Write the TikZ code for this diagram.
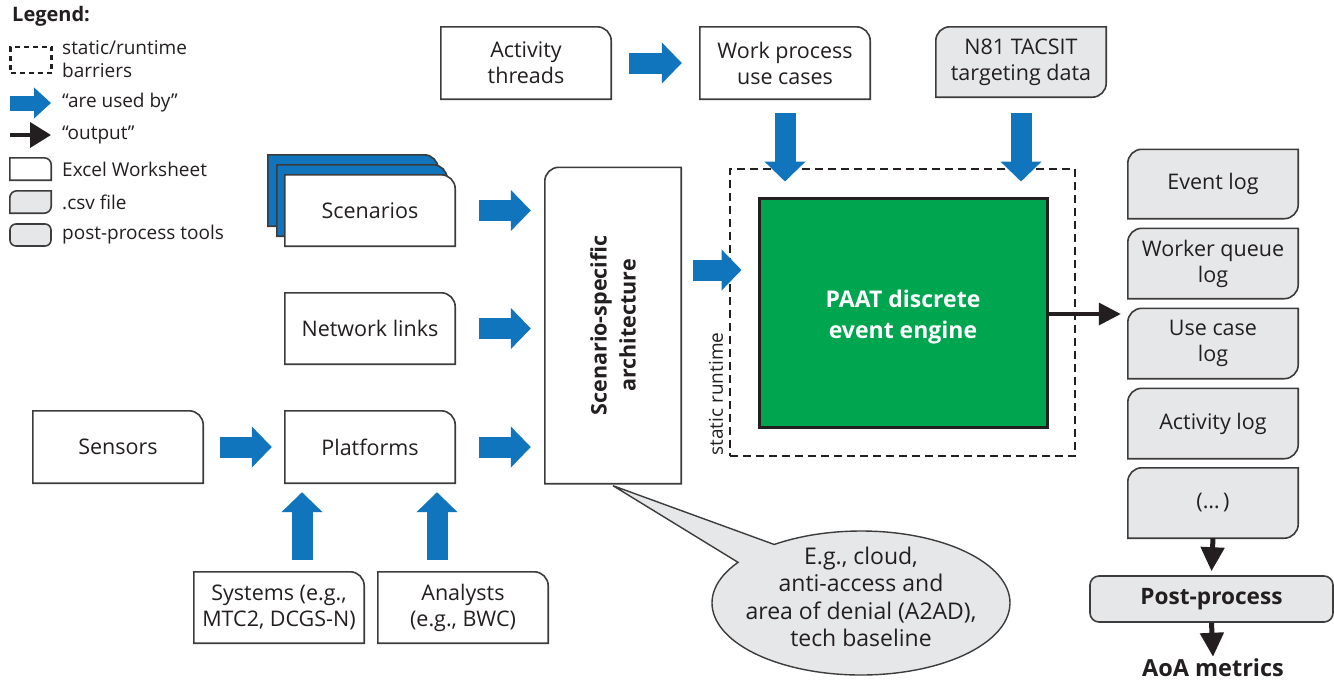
\documentclass[tikz,border=0pt]{standalone}
\usepackage{fontspec}
\setmainfont{Open Sans}
\usetikzlibrary{arrows.meta,shapes.callouts,calc}
\definecolor{ablue}{RGB}{16,117,188}
\definecolor{agreen}{RGB}{0,165,79}
\definecolor{agray}{RGB}{230,231,232}
\definecolor{aline}{RGB}{60,60,60}
\definecolor{atext}{RGB}{35,31,32}
\pgfdeclarelayer{bg}\pgfsetlayers{bg,main}
\newcommand\mainsz{\fontsize{21.5}{26}\selectfont}
\newcommand\legsz{\fontsize{19}{23}\selectfont}
% sheet: rounded top-right corner
\newcommand\drawsheet[3][]{\draw[shapeline,fill=white,#1] (#2.south west) -- (#2.north west) -- ([xshift=-#3]#2.north east) arc[start angle=90,end angle=0,radius=#3] -- (#2.south east) -- cycle;}
% csv: rounded top-left and bottom-right
\newcommand\drawcsv[3][]{\draw[shapeline,fill=agray,#1] ([yshift=-#3]#2.north west) arc[start angle=180,end angle=90,radius=#3] -- (#2.north east) -- ([yshift=#3]#2.south east) arc[start angle=0,end angle=-90,radius=#3] -- (#2.south west) -- cycle;}
% architecture: rounded top-left
\newcommand\drawarch[3][]{\draw[shapeline,fill=white,#1] (#2.south west) -- ([yshift=-#3]#2.north west) arc[start angle=180,end angle=90,radius=#3] -- (#2.north east) -- (#2.south east) -- cycle;}
\tikzset{
  x=1pt,y=1pt,
  box/.style={minimum width=170pt, minimum height=72pt, inner sep=0pt, align=center, font=\mainsz, text=atext},
  csvbox/.style={box, minimum height=70pt},
  shapeline/.style={draw=aline, line width=1.6pt},
  bluearrow/.style={draw=ablue, line width=21pt, -{Triangle[width=40pt,length=20pt]}},
  blackarrow/.style={draw=atext, line width=5pt, -{Triangle[width=23pt,length=24pt]}},
  legtext/.style={anchor=west, inner sep=0pt, align=left, font=\legsz, text=atext},
  legshape/.style={minimum width=41pt, minimum height=22pt, inner sep=0pt},
  barrier/.style={draw=atext, line width=2.8pt, dash pattern=on 8pt off 5pt},
}
\begin{document}
\begin{tikzpicture}
\useasboundingbox (0,0) rectangle (1334,-681);
\begin{pgfonlayer}{bg}
\fill[white] (0,0) rectangle (1334,-681);
\end{pgfonlayer}

% ---------------- Legend ----------------
\node[anchor=west, inner sep=0pt, font=\bfseries\fontsize{20}{23}\selectfont, text=atext] (legtitle) at (12,-16) {Legend:};
\node[legshape, minimum height=26pt, barrier, line width=2.4pt, dash pattern=on 5pt off 4pt] (legdash) at (31,-60) {};
\node[legtext] (legdasht) at (62,-59) {static/runtime\\barriers};
\coordinate (lb1) at (10,-103);
\coordinate (lb2) at (51,-103);
\draw[draw=ablue, line width=15pt, -{Triangle[width=30pt,length=17pt]}] (lb1) -- (lb2);
\node[legtext] (legbluet) at (62,-103) {“are used by”};
\coordinate (lk1) at (10,-135);
\coordinate (lk2) at (51,-135);
\draw[draw=atext, line width=4pt, -{Triangle[width=25pt,length=21pt]}] (lk1) -- (lk2);
\node[legtext] (legblackt) at (62,-135) {“output”};
\node[legshape] (legsheet) at (30.5,-169) {};
\node[legtext] (legsheett) at (62,-169) {Excel Worksheet};
\node[legshape] (legcsv) at (30.5,-202) {};
\node[legtext] (legcsvt) at (62,-202) {.csv file};
\node[legshape, draw=aline, line width=1.6pt, fill=agray, rounded corners=6pt] (legpost) at (30.5,-235) {};
\node[legtext] (legpostt) at (62,-235) {post-process tools};

% ---------------- Boxes ----------------
\node[box] (act) at (526,-63) {Activity\\threads};
\node[box] (work) at (785,-63) {Work process\\use cases};
\node[csvbox] (n81) at (1021,-62) {N81 TACSIT\\targeting data};

\node[box, minimum height=71pt] (scen) at (370,-210.5) {Scenarios};
\node[box, minimum height=71pt] (scenB) at ([shift={(-8,10)}]scen.center) {};
\node[box, minimum height=71pt] (scenC) at ([shift={(-17,20)}]scen.center) {};
\node[box, minimum height=71pt] (net) at (370,-328.5) {Network links};
\node[box] (sens) at (118,-447) {Sensors};
\node[box] (plat) at (370,-447) {Platforms};
\node[box, minimum height=71pt] (sys) at (279,-607.5) {Systems (e.g.,\\MTC2, DCGS-N)};
\node[box, minimum height=71pt] (ana) at (463,-607.5) {Analysts\\(e.g., BWC)};

\node[minimum width=136pt, minimum height=316pt, inner sep=0pt] (arch) at (613,-325.5) {};
\node[rotate=90, align=center, inner sep=0pt, font=\bfseries\fontsize{21.5}{29}\selectfont, text=atext] (archt) at (arch.center) {Scenario-specific\\architecture};

\node[minimum width=345pt, minimum height=287pt, inner sep=0pt, barrier] (dash) at (902.5,-312.5) {};
\node[minimum width=288pt, minimum height=229pt, inner sep=0pt, fill=agreen, draw=atext, line width=3pt] (green) at (903,-312.5) {};
\node[align=center, inner sep=0pt, text=white, font=\bfseries\fontsize{23}{31}\selectfont] (greent) at ([yshift=-5pt]green.center) {PAAT discrete\\event engine};
\node[rotate=90, inner sep=0pt, font=\fontsize{19}{20}\selectfont, text=atext] (statrt) at (716,-394) {static runtime};

\node[csvbox, minimum height=69pt] (ev) at (1213,-184) {Event log};
\node[csvbox] (wq) at (1213,-263.5) {Worker queue\\log};
\node[csvbox] (uc) at (1213,-343.5) {Use case\\log};
\node[csvbox] (al) at (1213,-423.5) {Activity log};
\node[csvbox] (dots) at (1213,-503) {(…\,)};
\node[minimum width=243pt, minimum height=46pt, inner sep=0pt, draw=aline, line width=1.6pt, fill=agray, rounded corners=9pt, font=\bfseries\fontsize{22.6}{26}\selectfont, text=atext] (post) at (1211.5,-599) {Post-process};
\node[inner sep=0pt, font=\bfseries\fontsize{23.5}{26}\selectfont, text=atext] (aoa) at (1213,-668) {AoA metrics};

% callout
\node[ellipse callout, minimum width=298pt, minimum height=144pt, inner sep=0pt, fill=agray, draw=aline, line width=1.4pt, callout absolute pointer={([yshift=-2pt]arch.south)}, callout pointer arc=20] (note) at (861,-603) {};
\node[align=center, inner sep=0pt, font=\fontsize{23}{27.5}\selectfont, text=atext] (notet) at (861,-597) {E.g., cloud,\\anti-access and\\area of denial (A2AD),\\tech baseline};

% ---------------- Shapes (background) ----------------
\begin{pgfonlayer}{bg}
  \drawsheet{legsheet}{7}
  \drawcsv{legcsv}{7}
  \drawsheet{act}{14}
  \drawsheet{work}{14}
  \drawcsv{n81}{14}
  \drawsheet[fill=ablue]{scenC}{14}
  \drawsheet[fill=ablue]{scenB}{14}
  \drawsheet{scen}{14}
  \drawsheet{net}{14}
  \drawsheet{sens}{14}
  \drawsheet{plat}{14}
  \drawsheet{sys}{14}
  \drawsheet{ana}{14}
  \drawarch{arch}{14}
  \drawcsv{ev}{14}
  \drawcsv{wq}{14}
  \drawcsv{uc}{14}
  \drawcsv{al}{14}
  \drawcsv{dots}{14}
\end{pgfonlayer}

% ---------------- Connectors ----------------
\draw[bluearrow] ([xshift=18pt]act.east) -- ([xshift=-18pt]act.east -| work.west);
\draw[bluearrow] ([yshift=-14pt]work.south) -- ([yshift=15pt]work.south |- green.north);
\draw[bluearrow] ([yshift=-16pt]n81.south) -- ([yshift=15pt]n81.south |- green.north);
\draw[bluearrow] ([xshift=24pt]scen.east) -- ([xshift=-14pt]scen.east -| arch.west);
\draw[bluearrow] ([xshift=24pt]net.east) -- ([xshift=-14pt]net.east -| arch.west);
\draw[bluearrow] ([xshift=24pt]plat.east) -- ([xshift=-14pt]plat.east -| arch.west);
\draw[bluearrow] ([xshift=17pt]sens.east) -- ([xshift=-13pt]plat.west);
\coordinate (ain) at ([shift={(12,55.5)}]arch.east);
\draw[bluearrow] (ain) -- ([xshift=-16pt]ain -| green.west);
\coordinate (u1) at ([xshift=23pt,yshift=12pt]sys.north);
\coordinate (u2) at ([xshift=-26pt,yshift=12pt]ana.north);
\draw[bluearrow] (u1) -- ([yshift=-9pt]u1 |- plat.south);
\draw[bluearrow] (u2) -- ([yshift=-9pt]u2 |- plat.south);

\draw[draw=atext, line width=3.5pt, -{Triangle[width=22pt,length=22pt]}] ([yshift=-1.5pt]green.east) -- ([xshift=-7pt,yshift=-1.5pt]green.east -| uc.west);
\draw[blackarrow] (dots.south) -- ([yshift=4pt]post.north);
\draw[blackarrow] (post.south) -- ([yshift=2pt]aoa.north);
\end{tikzpicture}
\end{document}
